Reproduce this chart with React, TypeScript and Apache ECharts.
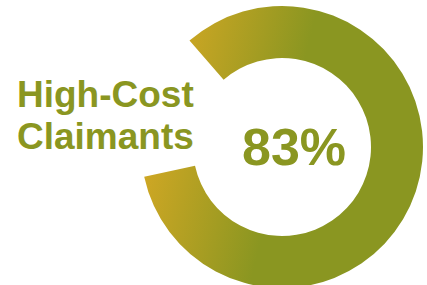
import React, { useEffect, useRef } from "react";
import * as echarts from "echarts";

const categories = ["High-Cost Claimants", "Other"];
const values = [83, 17];
const labelLines = ["High-Cost", "Claimants"];

export default function App() {
  const ref = useRef<HTMLDivElement>(null);
  useEffect(() => {
    if (!ref.current) return;
    const chart = echarts.init(ref.current, null, { renderer: "svg" });
    const olive = "#8A9621";
    const gold = "#CFA724";
    const grad = new echarts.graphic.LinearGradient(185, 0, 312, 31, [
      { offset: 0, color: gold },
      { offset: 1, color: olive },
    ], true);
    chart.setOption({
      animation: false,
      series: [
        {
          type: "pie",
          center: [282, 147],
          radius: [89, 141],
          startAngle: 131,
          clockwise: true,
          silent: true,
          label: { show: false },
          labelLine: { show: false },
          data: [
            { name: categories[0], value: values[0], itemStyle: { color: grad } },
            { name: categories[1], value: values[1], itemStyle: { color: "rgba(0,0,0,0)" } },
          ],
        },
      ],
      graphic: [
        {
          type: "text",
          left: 17,
          top: 76,
          style: {
            text: labelLines[0],
            fill: olive,
            font: "bold 37px 'Liberation Sans', Arial, sans-serif",
          },
        },
        {
          type: "text",
          left: 17,
          top: 118,
          style: {
            text: labelLines[1],
            fill: olive,
            font: "bold 37px 'Liberation Sans', Arial, sans-serif",
          },
        },
        {
          type: "text",
          x: 294,
          y: 147,
          style: {
            text: values[0] + "%",
            fill: olive,
            font: "bold 52px 'Liberation Sans', Arial, sans-serif",
            textAlign: "center",
            textVerticalAlign: "middle",
          },
        },
      ],
    });
    return () => chart.dispose();
  }, []);
  return (
    <div
      ref={ref}
      style={{ position: "fixed", left: 0, top: 0, width: 427, height: 285, background: "#fff" }}
    />
  );
}
